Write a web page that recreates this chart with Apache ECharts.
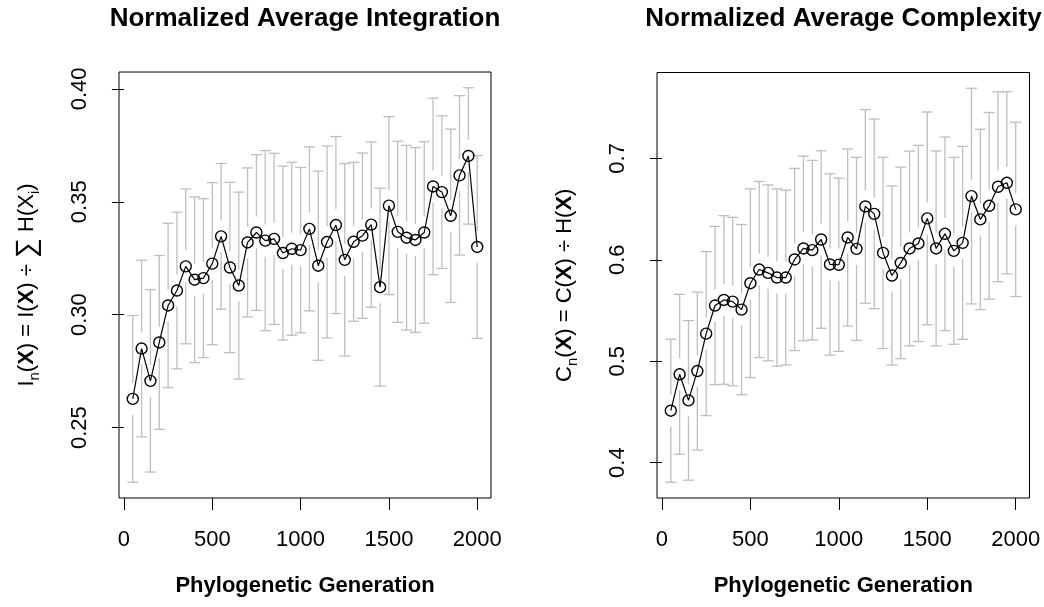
<!DOCTYPE html>
<html><head><meta charset="utf-8">
<script src="https://cdn.jsdelivr.net/npm/echarts@6/dist/echarts.min.js"></script>
<style>html,body{margin:0;padding:0;background:#fff}#c{width:1044px;height:607px}</style>
</head><body><div id="c"></div>
<script>
const generations = [50,100,150,200,250,300,350,400,450,500,550,600,650,700,750,800,850,900,950,1000,
  1050,1100,1150,1200,1250,1300,1350,1400,1450,1500,1550,1600,1650,1700,1750,1800,1850,1900,1950,2000];
const integrationMean = [0.2627,0.2850,0.2707,0.2877,0.3041,0.3107,0.3214,0.3155,0.3162,0.3226,
  0.3347,0.3209,0.3129,0.3320,0.3364,0.3328,0.3336,0.3273,0.3292,0.3286,
  0.3380,0.3217,0.3322,0.3397,0.3243,0.3323,0.3350,0.3399,0.3122,0.3483,
  0.3367,0.3341,0.3331,0.3364,0.3568,0.3543,0.3438,0.3617,0.3703,0.3300];
const integrationErr = [0.0369,0.0391,0.0404,0.0385,0.0364,0.0347,0.0343,0.0367,0.0352,0.0359,
  0.0323,0.0377,0.0414,0.0330,0.0345,0.0399,0.0379,0.0385,0.0383,0.0366,
  0.0363,0.0419,0.0425,0.0392,0.0426,0.0352,0.0366,0.0366,0.0438,0.0394,
  0.0401,0.0409,0.0409,0.0402,0.0391,0.0338,0.0384,0.0353,0.0302,0.0405];
const complexityMean = [0.4512,0.4871,0.4614,0.4903,0.5272,0.5549,0.5604,0.5588,0.5509,0.5769,
  0.5904,0.5871,0.5825,0.5825,0.6003,0.6112,0.6095,0.6200,0.5954,0.5951,
  0.6220,0.6108,0.6526,0.6453,0.6068,0.5845,0.5969,0.6112,0.6161,0.6408,
  0.6112,0.6256,0.6088,0.6167,0.6628,0.6398,0.6532,0.6720,0.6759,0.6497];
const complexityErr = [0.0705,0.0788,0.0787,0.0778,0.0808,0.0780,0.0831,0.0830,0.0839,0.0930,
  0.0868,0.0867,0.0874,0.0862,0.0898,0.0909,0.0885,0.0875,0.0894,0.0854,
  0.0873,0.0902,0.0954,0.0935,0.0943,0.0883,0.0944,0.0960,0.0967,0.1049,
  0.0961,0.0954,0.0921,0.0951,0.1063,0.0889,0.0920,0.0936,0.0898,0.0859];
const xTicks = [0,500,1000,1500,2000];
const integrationTicks = [0.25,0.30,0.35,0.40];
const complexityTicks = [0.4,0.5,0.6,0.7];
const titles = ['Normalized Average Integration','Normalized Average Complexity'];
const xTitle = 'Phylogenetic Generation';

const FONT = "'Liberation Sans', Arial, Helvetica, sans-serif";

function yRange(mean, err) {
  let lo = Infinity, hi = -Infinity;
  mean.forEach((m, i) => { lo = Math.min(lo, m - err[i]); hi = Math.max(hi, m + err[i]); });
  const pad = (hi - lo) * 0.04;
  return [lo - pad, hi + pad];
}
const xMin = generations[0] - (generations[generations.length-1] - generations[0]) * 0.04;
const xMax = generations[generations.length-1] + (generations[generations.length-1] - generations[0]) * 0.04;

const richBase = {
  r: {fontSize: 22, fontFamily: FONT, color: '#000', lineHeight: 30},
  b: {fontSize: 22, fontFamily: FONT, color: '#000', fontWeight: 'bold', lineHeight: 30},
  s: {fontSize: 15, fontFamily: FONT, color: '#000', lineHeight: 14, verticalAlign: 'bottom'},
  sum: {fontSize: 28, fontFamily: FONT, color: '#000', lineHeight: 30}
};
const yNames = [
  '{r|I}{s|n}{r|(}{b|X}{r|) = I(}{b|X}{r|) ÷ }{sum|∑}{r| H(X}{s|i}{r|)}',
  '{r|C}{s|n}{r|(}{b|X}{r|) = C(}{b|X}{r|) ÷ H(}{b|X}{r|)}'
];

function errRender(params, api) {
  const x = api.value(0), m = api.value(1), e = api.value(2);
  const pc = api.coord([x, m]);
  const pt = api.coord([x, m + e]);
  const pb = api.coord([x, m - e]);
  const gap = 16, cap = 5.5;
  const st = {stroke: '#BEBEBE', lineWidth: 1.3, fill: null};
  const ch = [];
  if (pc[1] - gap > pt[1]) ch.push({type: 'line', shape: {x1: pc[0], y1: pt[1], x2: pc[0], y2: pc[1] - gap}, style: st});
  if (pb[1] > pc[1] + gap) ch.push({type: 'line', shape: {x1: pc[0], y1: pc[1] + gap, x2: pc[0], y2: pb[1]}, style: st});
  ch.push({type: 'line', shape: {x1: pc[0] - cap, y1: pt[1], x2: pc[0] + cap, y2: pt[1]}, style: st});
  ch.push({type: 'line', shape: {x1: pc[0] - cap, y1: pb[1], x2: pc[0] + cap, y2: pb[1]}, style: st});
  return {type: 'group', children: ch};
}

const panels = [
  {mean: integrationMean, err: integrationErr, ticks: integrationTicks, dec: 2,
   grid: {left: 119, right: 553, top: 72, bottom: 109}, cx: 305},
  {mean: complexityMean, err: complexityErr, ticks: complexityTicks, dec: 1,
   grid: {left: 657, right: 14.5, top: 72.5, bottom: 109}, cx: 843.5}
];

const option = {
  animation: false,
  backgroundColor: '#fff',
  title: panels.map((p, i) => ({
    text: titles[i], left: p.cx, top: 6, padding: 0, textAlign: 'center',
    textStyle: {fontFamily: FONT, fontWeight: 'bold', fontSize: 26, color: '#000'}
  })),
  grid: panels.map(p => Object.assign({show: true, borderColor: '#000', borderWidth: 1, backgroundColor: 'transparent'}, p.grid)),
  xAxis: panels.map((p, i) => ({
    type: 'value', gridIndex: i, min: xMin, max: xMax,
    axisLine: {show: false}, splitLine: {show: false},
    axisTick: {show: true, length: 12, customValues: xTicks, lineStyle: {color: '#000', width: 1}},
    axisLabel: {customValues: xTicks, fontSize: 22, fontFamily: FONT, color: '#000', margin: 31,
      formatter: v => String(Math.round(v))},
    name: xTitle, nameLocation: 'middle', nameGap: 77,
    nameTextStyle: {fontFamily: FONT, fontWeight: 'bold', fontSize: 22, color: '#000'}
  })),
  yAxis: panels.map((p, i) => {
    const r = yRange(p.mean, p.err);
    return {
      type: 'value', gridIndex: i, min: r[0], max: r[1],
      axisLine: {show: false}, splitLine: {show: false},
      axisTick: {show: true, length: 12, customValues: p.ticks, lineStyle: {color: '#000', width: 1}},
      axisLabel: {customValues: p.ticks, rotate: 90, fontSize: 22, fontFamily: FONT, color: '#000', margin: 28,
        formatter: v => Number(v).toFixed(p.dec)},
      name: yNames[i], nameLocation: 'middle', nameRotate: 90, nameGap: 77,
      nameTextStyle: {rich: richBase}
    };
  }),
  series: panels.flatMap((p, i) => [
    {
      type: 'custom', xAxisIndex: i, yAxisIndex: i, z: 1, silent: true,
      renderItem: errRender, encode: {x: 0, y: 1},
      data: generations.map((g, k) => [g, p.mean[k], p.err[k]])
    },
    {
      type: 'line', xAxisIndex: i, yAxisIndex: i, z: 2, silent: true,
      data: generations.map((g, k) => [g, p.mean[k]]),
      symbol: 'circle', symbolSize: 11, showSymbol: true,
      lineStyle: {color: '#000', width: 1.2},
      itemStyle: {color: 'rgba(0,0,0,0)', borderColor: '#000', borderWidth: 1.4},
      emphasis: {disabled: true}
    }
  ])
};

const chart = echarts.init(document.getElementById('c'), null, {renderer: 'canvas'});
chart.setOption(option);
</script>
</body></html>
